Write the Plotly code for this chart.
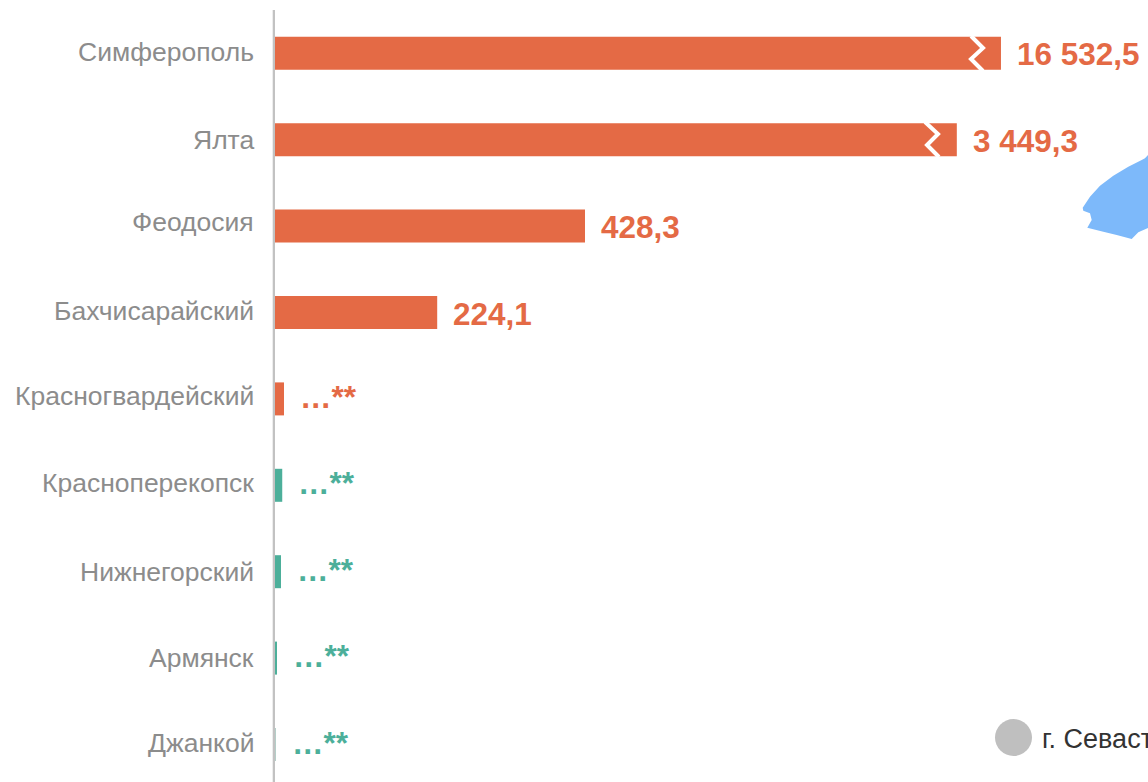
import plotly.graph_objects as go

categories = ["Симферополь", "Ялта", "Феодосия", "Бахчисарайский", "Красногвардейский",
              "Красноперекопск", "Нижнегорский", "Армянск", "Джанкой"]
# Drawn bar lengths (the two longest bars are on a broken scale, as in the reference)
drawn_values = [1003, 942, 428.3, 224.1, 12.4, 10, 8.3, 2.8, 1.2]
value_labels = ["16 532,5", "3 449,3", "428,3", "224,1", "…**", "…**", "…**", "…**", "…**"]
ORANGE = "#E46A45"
TEAL = "#4CAF9A"
label_colors = [ORANGE] * 5 + [TEAL] * 4
bar_colors = [ORANGE] * 5 + [TEAL] * 3 + ["#B5CEC8"]
# small vertical nudges of the category captions, as they sit in the reference
caption_nudge = [1, 0, 4, 2, 3, 2, 0, 0, 2]

W, H = 1148, 782
L, T = 275, 10
X_MAX = (W - L) / 0.7238
STEP = 86.4
FIRST_CENTER = 53.3


def px(x):
    return (x - L) / (W - L)


def py(y):
    return 1 - (y - T) / (H - T)


fig = go.Figure(go.Bar(
    y=categories, x=drawn_values, orientation="h",
    marker=dict(color=bar_colors, line=dict(width=0)),
    width=33 / STEP, hoverinfo="skip",
))

annotations = []
for cat, v, t, c, n in zip(categories, drawn_values, value_labels, label_colors, caption_nudge):
    annotations.append(dict(
        x=v, y=cat, xref="x", yref="y", text="<b>%s</b>" % t, showarrow=False,
        xanchor="left", yanchor="middle", xshift=14, yshift=2 if t.startswith("…") else -1,
        align="left", font=dict(family="Liberation Sans", size=31.5, color=c),
    ))
    annotations.append(dict(
        x=0, y=cat, xref="x", yref="y", text=cat, showarrow=False,
        xanchor="right", yanchor="middle", xshift=-19, yshift=n, align="right",
        font=dict(family="Liberation Sans", size=26.5, color="#8C8C8C"),
    ))
annotations.append(dict(
    x=px(1040), y=py(739), xref="paper", yref="paper", text="г. Севастополь", showarrow=False,
    xanchor="left", yanchor="middle", font=dict(family="Liberation Sans", size=27, color="#333333"),
))


def zigzag(points):
    d = "M" + " L".join(f"{px(x):.5f},{py(y):.5f}" for x, y in points)
    return dict(type="path", xref="paper", yref="paper", path=d,
                line=dict(color="white", width=4), layer="above")


lake = [(1082.7, 207.7), (1090, 196.7), (1100, 185.7), (1113.3, 175.7), (1128.3, 166.7),
        (1141.7, 160), (1145, 158.3), (1148, 155), (1148, 228), (1138.3, 232.3), (1131.7, 239),
        (1116.7, 235), (1103.3, 231.7), (1087.3, 227.7), (1091.7, 220), (1090, 213.3), (1083.3, 210.7)]
lake_path = "M" + " L".join(f"{px(x):.5f},{py(y):.5f}" for x, y in lake) + " Z"

shapes = [
    zigzag([(971, 36), (983, 48), (971, 59), (983, 71)]),
    zigzag([(925, 122), (938, 134), (927, 145), (939, 157)]),
    dict(type="path", xref="paper", yref="paper", path=lake_path,
         fillcolor="#7DB9FA", line=dict(width=0), layer="above"),
    dict(type="circle", xref="paper", yref="paper", x0=px(995), x1=px(1032), y0=py(756), y1=py(719),
         fillcolor="#BFBFBF", line=dict(width=0), layer="above"),
    dict(type="rect", xref="paper", yref="paper", x0=px(272.7), x1=px(275), y0=py(782), y1=py(10),
         fillcolor="#C2C2C2", line=dict(width=0), layer="above"),
]

fig.update_layout(
    width=W, height=H, margin=dict(l=L, r=0, t=T, b=0, pad=0, autoexpand=False),
    paper_bgcolor="white", plot_bgcolor="white", showlegend=False,
    xaxis=dict(range=[0, X_MAX], visible=False, fixedrange=True),
    yaxis=dict(
        type="category", categoryorder="array", categoryarray=categories,
        range=[(H - FIRST_CENTER) / STEP, (T - FIRST_CENTER) / STEP],
        showline=False, ticks="", showgrid=False,
        showticklabels=False, fixedrange=True,
    ),
    annotations=annotations, shapes=shapes,
)

fig.write_html("out.html", config=dict(displayModeBar=False),
               post_script="document.body.style.margin='0';")
